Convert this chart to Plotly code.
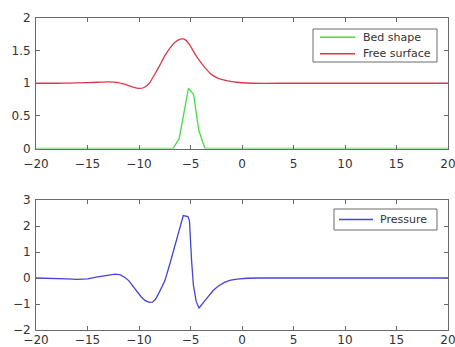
import plotly.graph_objects as go

# Free surface elevation along the channel
surf_x = [-20, -18, -16, -14, -13, -12, -11, -10.5, -10, -9.5, -9, -8.5, -8, -7.5,
          -7, -6.5, -6, -5.8, -5.5, -5, -4.5, -4, -3.5, -3, -2.5, -2, -1.5, -1,
          -0.5, 0, 1, 5, 10, 15, 20]
surf_y = [1.0, 1.0, 1.005, 1.015, 1.02, 1.01, 0.965, 0.935, 0.92, 0.935, 1.0,
          1.13, 1.27, 1.42, 1.54, 1.63, 1.675, 1.68, 1.665, 1.57, 1.43, 1.32,
          1.22, 1.14, 1.09, 1.06, 1.04, 1.025, 1.015, 1.008, 1.0, 1.0, 1.0,
          1.0, 1.0]

# Bed topography (localised bump)
bed_x = [-20, -6.7, -6.1, -5.2, -4.7, -4.2, -3.6, 20]
bed_y = [0, 0, 0.15, 0.92, 0.83, 0.28, 0, 0]

# Pressure along the bed
pres_x = [-20, -18, -17, -16, -15, -14, -13, -12.3, -11.8, -11.4, -11, -10.6,
          -10.2, -9.8, -9.4, -9.0, -8.7, -8.4, -8.1, -7.8, -7.5, -7.0, -6.5,
          -6.0, -5.7, -5.25, -5.1, -4.9, -4.72, -4.45, -4.17, -3.7, -3.2,
          -2.8, -2.3, -1.7, -1.2, -0.5, 0.5, 1.5, 5, 10, 15, 20]
pres_y = [0, -0.01, -0.03, -0.05, -0.03, 0.04, 0.12, 0.15, 0.12, 0.03, -0.1,
          -0.3, -0.53, -0.72, -0.87, -0.94, -0.93, -0.82, -0.6, -0.38, -0.12,
          0.55, 1.25, 1.95, 2.4, 2.36, 2.2, 0.7, -0.27, -0.9, -1.15, -0.92,
          -0.66, -0.48, -0.31, -0.17, -0.09, -0.04, -0.01, 0, 0, 0, 0, 0]

x_ticks = [-20, -15, -10, -5, 0, 5, 10, 15, 20]
top_ticks = [0, 0.5, 1, 1.5, 2]
top_labels = ["0", "0.5", "1", "1.5", "2"]
bot_ticks = [-2, -1, 0, 1, 2, 3]

GREEN = "#45dd45"
RED = "#d83a4c"
BLUE = "#4444d6"
AXIS = "#6a6a6a"
TEXT = "#333333"
FONT = "DejaVu Sans"

W, H = 455, 347
ML, MR, MT, MB = 36, 7, 18, 17
PW, PH = W - ML - MR, H - MT - MB


def fx(px):
    """Horizontal pixel position -> paper fraction."""
    return (px - ML) / PW


def fy(py):
    """Vertical pixel position (from top) -> paper fraction."""
    return (H - MB - py) / PH


fig = go.Figure()
traces = [
    dict(x=bed_x, y=bed_y, name="Bed shape", color=GREEN, ax="x", ay="y", shape="linear"),
    dict(x=surf_x, y=surf_y, name="Free surface", color=RED, ax="x", ay="y", shape="spline"),
    dict(x=pres_x, y=pres_y, name="Pressure", color=BLUE, ax="x2", ay="y2", shape="linear"),
]
for t in traces:
    line = dict(color=t["color"], width=1.3, shape=t["shape"])
    if t["shape"] == "spline":
        line["smoothing"] = 0.6
    fig.add_trace(go.Scatter(x=t["x"], y=t["y"], mode="lines", name=t["name"],
                             line=line, xaxis=t["ax"], yaxis=t["ay"],
                             showlegend=False))

axis_common = dict(showline=True, linecolor=AXIS, linewidth=1, mirror="ticks",
                   ticks="inside", ticklen=4, tickcolor=AXIS, showgrid=False,
                   zeroline=False, automargin=False, ticklabeloverflow="allow",
                   tickfont=dict(family=FONT, size=12, color=TEXT))

# Boxed legends drawn in paper space:
# (box left, top, right, bottom, sample start, sample end, text start, entries)
legend_boxes = [
    (313, 29, 437, 62, 320, 355, 362, [traces[0], traces[1]]),
    (334, 209, 437, 230, 339, 373, 379, [traces[2]]),
]
shapes, annotations = [], []
for (bx0, by0, bx1, by1, lx0, lx1, tx, entries) in legend_boxes:
    shapes.append(dict(type="rect", xref="paper", yref="paper",
                       x0=fx(bx0), x1=fx(bx1), y0=fy(by1), y1=fy(by0),
                       line=dict(color=AXIS, width=1), fillcolor="white", layer="above"))
    step = (by1 - by0) / len(entries)
    for i, t in enumerate(entries):
        cy = by0 + step * (i + 0.5)
        shapes.append(dict(type="line", xref="paper", yref="paper",
                           x0=fx(lx0), x1=fx(lx1), y0=fy(cy), y1=fy(cy),
                           line=dict(color=t["color"], width=1.3), layer="above"))
        annotations.append(dict(xref="paper", yref="paper", x=fx(tx - 1), y=fy(cy),
                                xanchor="left", yanchor="middle", showarrow=False,
                                text=t["name"], font=dict(family=FONT, size=11, color=TEXT)))

fig.update_layout(
    width=W, height=H,
    margin=dict(l=ML, r=MR, t=MT, b=MB, pad=0),
    paper_bgcolor="white", plot_bgcolor="white",
    xaxis=dict(domain=[0, 1], anchor="y", range=[-20, 20], tickvals=x_ticks,
               ticklabelstandoff=4, **axis_common),
    yaxis=dict(domain=[fy(148.5), 1.0], anchor="x", range=[0, 2], tickvals=top_ticks,
               ticktext=top_labels, ticklabelstandoff=2, **axis_common),
    xaxis2=dict(domain=[0, 1], anchor="y2", range=[-20, 20], tickvals=x_ticks,
                ticklabelstandoff=-1, **axis_common),
    yaxis2=dict(domain=[0, fy(200)], anchor="x2", range=[-2, 3], tickvals=bot_ticks,
                ticklabelstandoff=2, **axis_common),
    shapes=shapes,
    annotations=annotations,
    showlegend=False,
)

fig.write_html("out.html")
